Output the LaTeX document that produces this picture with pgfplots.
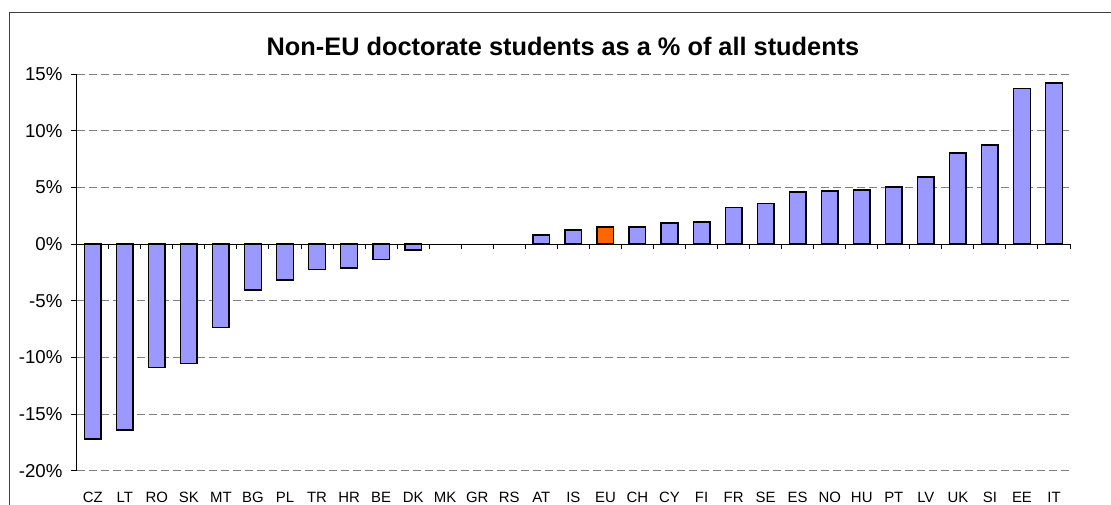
\documentclass[border=0pt]{standalone}
\usepackage{fontspec}
\setmainfont{Liberation Sans}
\usepackage{pgfplots}
\pgfplotsset{compat=1.18}
\definecolor{barblue}{HTML}{9999FF}
\definecolor{euorange}{HTML}{FF6600}
\definecolor{gridgray}{HTML}{808080}
\begin{document}
\begin{tikzpicture}
\useasboundingbox (0pt,0pt) rectangle (833.25pt,378.75pt);
\fill[white] (0pt,0pt) rectangle (833.25pt,378.75pt);
\draw[line width=0.75pt, black!75] (6.75pt,-8pt) -- (6.75pt,369.2pt) -- (845pt,369.2pt);
\node[font=\bfseries\fontsize{19}{21}\selectfont, anchor=base] at (422.25pt,336.75pt) {Non-EU doctorate students as a \% of all students};
\begin{axis}[
  at={(57.525pt,25.725pt)}, anchor=south west,
  scale only axis, width=745pt, height=297.3pt,
  xmin=-0.5, xmax=30.5, ymin=-20, ymax=15,
  axis y line*=left, axis x line*=bottom,
  x axis line style={draw=none},
  y axis line style={black, line width=0.75pt},
  xtick={0,...,30},
  xticklabels={CZ,LT,RO,SK,MT,BG,PL,TR,HR,BE,DK,MK,GR,RS,AT,IS,EU,CH,CY,FI,FR,SE,ES,NO,HU,PT,LV,UK,SI,EE,IT},
  x tick style={draw=none},
  xticklabel style={font=\fontsize{11.2}{13}\selectfont, anchor=base, yshift=-19.5pt},
  ytick={-20,-15,-10,-5,0,5,10,15},
  yticklabels={-20\%,-15\%,-10\%,-5\%,0\%,5\%,10\%,15\%},
  yticklabel style={font=\fontsize{14}{16}\selectfont, anchor=east, inner sep=0pt, xshift=-6pt},
  y tick style={black, line width=0.75pt},
  ytick align=outside, major tick length=4.5pt,
  ymajorgrids, grid style={gridgray, line width=0.75pt, dash pattern=on 6pt off 3pt},
  ybar, bar width=12.45pt, bar shift=0pt,
  clip=false,
]
\addplot[fill=barblue, draw=black, line width=1.1pt] coordinates {
(0,-17.2) (1,-16.4) (2,-10.9) (3,-10.55) (4,-7.35) (5,-4.05) (6,-3.15) (7,-2.25) (8,-2.1) (9,-1.35) (10,-0.5)
(14,0.8) (15,1.25) (17,1.5) (18,1.85) (19,1.95) (20,3.25) (21,3.6) (22,4.6) (23,4.7) (24,4.8) (25,5.05) (26,5.95) (27,8.05) (28,8.75) (29,13.75) (30,14.25)
};
\addplot[fill=euorange, draw=black, line width=1.1pt] coordinates {(16,1.5)};
\end{axis}
\begin{axis}[
  at={(57.525pt,25.725pt)}, anchor=south west,
  scale only axis, width=745pt, height=297.3pt,
  xmin=-0.5, xmax=30.5, ymin=-20, ymax=15,
  axis x line=middle, axis y line=none,
  x axis line style={-, black, line width=0.75pt},
  xtick={-0.5,0.5,...,30.5}, xticklabels={},
  ytick=\empty,
  xtick align=outside, major tick length=3.75pt,
  x tick style={black, line width=0.75pt},
]
\end{axis}
\end{tikzpicture}
\end{document}
